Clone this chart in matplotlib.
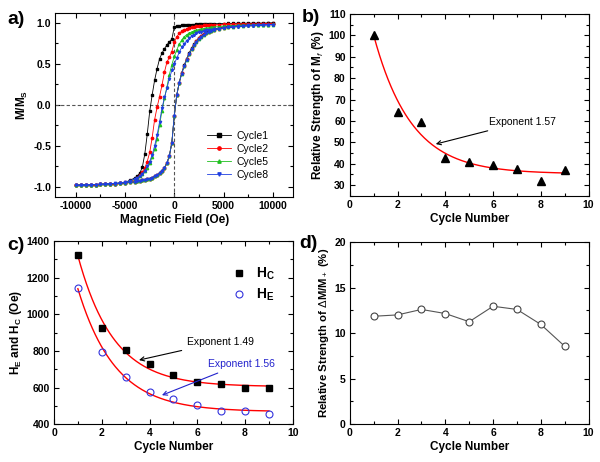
import numpy as np
import matplotlib
matplotlib.use('Agg')
import matplotlib.pyplot as plt
from matplotlib.ticker import MultipleLocator

plt.rcParams['font.family'] = ['Liberation Sans', 'DejaVu Sans']
plt.rcParams['mathtext.fontset'] = 'custom'
plt.rcParams['mathtext.rm'] = 'Liberation Sans'
plt.rcParams['mathtext.bf'] = 'Liberation Sans:bold'
plt.rcParams['mathtext.it'] = 'Liberation Sans:italic'
plt.rcParams['axes.unicode_minus'] = False

# ---- panel a: hysteresis loops (field grid in Oe) ----
field = [-10000, -9500, -9000, -8500, -8000, -7500, -7000, -6500, -6000, -5500,
         -5000, -4500, -4000, -3750, -3500, -3250, -3000, -2750, -2500, -2250,
         -2000, -1750, -1500, -1250, -1000, -750, -500, -250, 0, 250,
         500, 750, 1000, 1250, 1500, 1750, 2000, 2250, 2500, 2750,
         3000, 3250, 3500, 3750, 4000, 4500, 5000, 5500, 6000, 6500,
         7000, 7500, 8000, 8500, 9000, 9500, 10000]

# descending branches (sweep +10 kOe -> -10 kOe), listed in field order
desc_c1 = [-0.980, -0.978, -0.976, -0.974, -0.972, -0.970, -0.967, -0.964, -0.960, -0.955,
           -0.946, -0.918, -0.890, -0.865, -0.830, -0.760, -0.600, -0.360, -0.080, 0.120,
           0.300, 0.440, 0.560, 0.630, 0.685, 0.730, 0.770, 0.800, 0.950, 0.958,
           0.963, 0.967, 0.970, 0.973, 0.975, 0.977, 0.979, 0.981, 0.982, 0.983,
           0.985, 0.986, 0.987, 0.988, 0.989, 0.990, 0.991, 0.992, 0.993, 0.994,
           0.995, 0.995, 0.996, 0.996, 0.997, 0.997, 0.997]
desc_c2 = [-0.980, -0.978, -0.976, -0.974, -0.972, -0.969, -0.966, -0.962, -0.958, -0.952,
           -0.944, -0.932, -0.910, -0.890, -0.860, -0.820, -0.770, -0.690, -0.580, -0.400,
           -0.180, -0.030, 0.100, 0.240, 0.400, 0.520, 0.580, 0.650, 0.760, 0.830,
           0.870, 0.895, 0.910, 0.925, 0.935, 0.943, 0.950, 0.955, 0.960, 0.964,
           0.967, 0.970, 0.972, 0.974, 0.976, 0.979, 0.981, 0.983, 0.984, 0.985,
           0.986, 0.987, 0.988, 0.988, 0.989, 0.989, 0.990]
desc_c5 = [-0.980, -0.978, -0.976, -0.974, -0.971, -0.968, -0.965, -0.961, -0.956, -0.950,
           -0.941, -0.925, -0.905, -0.890, -0.870, -0.845, -0.810, -0.765, -0.710, -0.635,
           -0.540, -0.410, -0.250, -0.070, 0.080, 0.220, 0.370, 0.490, 0.590, 0.670,
           0.740, 0.790, 0.830, 0.855, 0.873, 0.888, 0.900, 0.910, 0.918, 0.925,
           0.930, 0.935, 0.940, 0.944, 0.948, 0.954, 0.959, 0.963, 0.966, 0.969,
           0.971, 0.973, 0.975, 0.977, 0.978, 0.979, 0.980]
desc_c8 = [-0.980, -0.978, -0.976, -0.974, -0.971, -0.968, -0.965, -0.961, -0.956, -0.950,
           -0.941, -0.925, -0.903, -0.887, -0.866, -0.838, -0.800, -0.750, -0.690, -0.610,
           -0.500, -0.370, -0.210, -0.040, 0.090, 0.200, 0.320, 0.420, 0.500, 0.570,
           0.640, 0.700, 0.745, 0.780, 0.810, 0.835, 0.855, 0.870, 0.882, 0.892,
           0.900, 0.907, 0.913, 0.918, 0.923, 0.930, 0.937, 0.943, 0.948, 0.953,
           0.957, 0.961, 0.965, 0.968, 0.971, 0.973, 0.975]

# ascending branches (sweep -10 kOe -> +10 kOe)
asc_c1 = [-0.980, -0.978, -0.976, -0.974, -0.972, -0.969, -0.966, -0.963, -0.959, -0.955,
          -0.950, -0.944, -0.937, -0.932, -0.927, -0.921, -0.914, -0.906, -0.897, -0.886,
          -0.872, -0.855, -0.833, -0.805, -0.765, -0.710, -0.620, -0.460, -0.130, 0.120,
          0.270, 0.390, 0.480, 0.560, 0.630, 0.690, 0.740, 0.780, 0.815, 0.843,
          0.866, 0.884, 0.899, 0.912, 0.922, 0.938, 0.950, 0.959, 0.966, 0.972,
          0.977, 0.981, 0.985, 0.988, 0.991, 0.993, 0.995]
asc_c2 = [-0.980, -0.978, -0.976, -0.974, -0.972, -0.969, -0.966, -0.963, -0.959, -0.955,
          -0.950, -0.944, -0.937, -0.932, -0.927, -0.921, -0.914, -0.906, -0.897, -0.886,
          -0.872, -0.855, -0.833, -0.805, -0.765, -0.710, -0.620, -0.460, -0.130, 0.120,
          0.270, 0.385, 0.475, 0.555, 0.625, 0.685, 0.735, 0.775, 0.810, 0.838,
          0.860, 0.878, 0.893, 0.905, 0.915, 0.930, 0.942, 0.951, 0.958, 0.964,
          0.969, 0.973, 0.977, 0.980, 0.983, 0.985, 0.987]
asc_c5 = [-0.980, -0.978, -0.976, -0.974, -0.972, -0.969, -0.966, -0.963, -0.959, -0.955,
          -0.950, -0.944, -0.937, -0.932, -0.927, -0.921, -0.914, -0.906, -0.897, -0.886,
          -0.872, -0.855, -0.833, -0.805, -0.765, -0.710, -0.620, -0.460, -0.130, 0.120,
          0.270, 0.380, 0.470, 0.550, 0.620, 0.680, 0.730, 0.770, 0.805, 0.832,
          0.855, 0.872, 0.887, 0.899, 0.909, 0.924, 0.936, 0.945, 0.952, 0.958,
          0.963, 0.967, 0.970, 0.973, 0.975, 0.977, 0.979]
asc_c8 = [-0.980, -0.978, -0.976, -0.974, -0.972, -0.969, -0.966, -0.963, -0.959, -0.955,
          -0.950, -0.944, -0.937, -0.932, -0.927, -0.921, -0.914, -0.906, -0.897, -0.886,
          -0.872, -0.855, -0.833, -0.805, -0.765, -0.710, -0.620, -0.460, -0.130, 0.120,
          0.270, 0.380, 0.470, 0.550, 0.620, 0.680, 0.730, 0.770, 0.805, 0.832,
          0.855, 0.872, 0.887, 0.899, 0.909, 0.924, 0.936, 0.945, 0.952, 0.958,
          0.963, 0.967, 0.970, 0.973, 0.975, 0.977, 0.979]

cycle_names = ['Cycle1', 'Cycle2', 'Cycle5', 'Cycle8']
cycle_colors = ['black', 'red', '#1fbf1f', '#1f3fe0']
cycle_markers = ['s', 'o', '^', 'v']

# ---- panel b ----
cycles = [1, 2, 3, 4, 5, 6, 7, 8, 9]
mf_strength = [100, 64, 59.5, 42.5, 41, 39.5, 37.5, 32, 37]
mf_fit = (35.3, 64.7, 1.57)   # offset, amplitude, exponent (decay constant)

# ---- panel c ----
hc = [1325, 927, 803, 730, 671, 632, 617, 598, 598]
he = [1144, 792, 655, 578, 536, 505, 474, 469, 455]
hc_fit = (605, 715, 1.49)
he_fit = (468, 672, 1.56)

# ---- panel d ----
dm_strength = [11.85, 12.0, 12.6, 12.15, 11.25, 12.95, 12.6, 10.95, 8.55]

TICK = 7.5
LAB = 8.5


def style(ax, xmaj, xmin, ymaj, ymin):
    ax.xaxis.set_major_locator(MultipleLocator(xmaj))
    ax.xaxis.set_minor_locator(MultipleLocator(xmin))
    ax.yaxis.set_major_locator(MultipleLocator(ymaj))
    ax.yaxis.set_minor_locator(MultipleLocator(ymin))
    ax.tick_params(which='both', direction='in', top=True, right=True, width=0.8,
                   labelsize=TICK, pad=3)
    ax.tick_params(which='major', length=3.5)
    ax.tick_params(which='minor', length=2)
    for lab in ax.get_xticklabels() + ax.get_yticklabels():
        lab.set_fontweight('bold')
    for sp in ax.spines.values():
        sp.set_linewidth(0.8)


def fit_curve(params, x):
    y0, amp, tau = params
    return y0 + amp * np.exp(-(x - 1) / tau)


fig = plt.figure(figsize=(6.0, 4.62), dpi=100)
ax_a = fig.add_axes([0.092, 0.574, 0.397, 0.398])
ax_b = fig.add_axes([0.583, 0.576, 0.398, 0.394])
ax_c = fig.add_axes([0.090, 0.082, 0.398, 0.396])
ax_d = fig.add_axes([0.583, 0.082, 0.398, 0.394])

# a) loops
f = np.array(field)
desc = [desc_c1, desc_c2, desc_c5, desc_c8]
asc = [asc_c1, asc_c2, asc_c5, asc_c8]
ax_a.axhline(0, color='#555555', ls='--', lw=0.8, dashes=(3, 2))
ax_a.axvline(0, color='#555555', ls='--', lw=0.8, dashes=(3, 2))
for name, col, mk, d, u in zip(cycle_names, cycle_colors, cycle_markers, desc, asc):
    h_loop = np.concatenate([f[::-1], f])
    m_loop = np.concatenate([np.array(d)[::-1], np.array(u)])
    ax_a.plot(h_loop, m_loop, color=col, marker=mk, ms=1.7, lw=0.6, label=name)
ax_a.set_xlim(-12100, 12100)
ax_a.set_ylim(-1.12, 1.12)
style(ax_a, 5000, 2500, 0.5, 0.25)
ax_a.set_xlabel('Magnetic Field (Oe)', fontsize=LAB, fontweight='bold', labelpad=2)
ax_a.set_ylabel(r'$\mathbf{M/M_S}$', fontsize=LAB, labelpad=2)
ax_a.legend(loc='lower left', bbox_to_anchor=(0.63, 0.08), frameon=False, fontsize=7.5,
            handlelength=2.3, handletextpad=0.5, labelspacing=0.3, borderaxespad=0,
            borderpad=0.2, markerscale=1.4)

# b)
xs = np.linspace(1, 9, 200)
ax_b.plot(xs, fit_curve(mf_fit, xs), color='red', lw=1.0)
ax_b.plot(cycles, mf_strength, ls='none', marker='^', color='black', ms=5.5)
ax_b.set_xlim(0, 10)
ax_b.set_ylim(25, 110)
style(ax_b, 2, 1, 10, 5)
ax_b.set_xlabel('Cycle Number', fontsize=LAB, fontweight='bold', labelpad=2)
ax_b.set_ylabel(r'Relative Strength of $\mathbf{M_{\mathit{f}}}$ (%)', fontsize=LAB,
                fontweight='bold', labelpad=2)
ax_b.annotate('Exponent 1.57', xy=(3.6, 49.2), xytext=(5.82, 59.5), fontsize=7.5,
              va='center', ha='left',
              arrowprops=dict(arrowstyle='->', color='black', lw=0.8,
                              shrinkA=3, shrinkB=0))

# c)
ax_c.plot(xs, fit_curve(hc_fit, xs), color='red', lw=1.0)
ax_c.plot(xs, fit_curve(he_fit, xs), color='red', lw=1.0)
ax_c.plot(cycles, hc, ls='none', marker='s', color='black', ms=4.5, label=r'$\mathbf{H_C}$')
ax_c.plot(cycles, he, ls='none', marker='o', mfc='none', mec='#3333dd', mew=0.8, ms=5,
          label=r'$\mathbf{H_E}$')
ax_c.set_xlim(0, 10)
ax_c.set_ylim(400, 1400)
style(ax_c, 2, 1, 200, 100)
ax_c.set_xlabel('Cycle Number', fontsize=LAB, fontweight='bold', labelpad=2)
ax_c.set_ylabel(r'$\mathbf{H_E}$ and $\mathbf{H_C}$ (Oe)', fontsize=LAB,
                fontweight='bold', labelpad=2)
ax_c.legend(loc='upper right', bbox_to_anchor=(0.96, 0.91), frameon=False, fontsize=10,
            handletextpad=0.2, labelspacing=0.3, borderaxespad=0.2)
ax_c.annotate('Exponent 1.49', xy=(3.56, 750), xytext=(5.56, 850), fontsize=7.5,
              va='center', ha='left',
              arrowprops=dict(arrowstyle='->', color='black', lw=0.8,
                              shrinkA=3, shrinkB=0))
ax_c.annotate('Exponent 1.56', xy=(4.52, 558), xytext=(6.44, 730), fontsize=7.5,
              va='center', ha='left', color='#2222cc',
              arrowprops=dict(arrowstyle='->', color='#2222cc', lw=0.8,
                              shrinkA=3, shrinkB=0))

# d)
ax_d.plot(cycles, dm_strength, color='#555555', lw=0.8, marker='o', mfc='white',
          mec='#444444', mew=0.8, ms=5)
ax_d.set_xlim(0, 10)
ax_d.set_ylim(0, 20)
style(ax_d, 2, 1, 5, 2.5)
ax_d.set_xlabel('Cycle Number', fontsize=LAB, fontweight='bold', labelpad=2)
ax_d.set_ylabel(r'Relative Strength of $\Delta$M/M$_+$ (%)', fontsize=8.2,
                fontweight='bold', labelpad=2)

# panel letters
for letter, (px, py) in zip('abcd', [(7, 19), (302, 17), (7, 245), (299, 244)]):
    fig.text(px / 600, 1 - py / 462, letter + ')', fontsize=14, fontweight='bold',
             ha='left', va='center')

fig.savefig('out.png', dpi=100)
